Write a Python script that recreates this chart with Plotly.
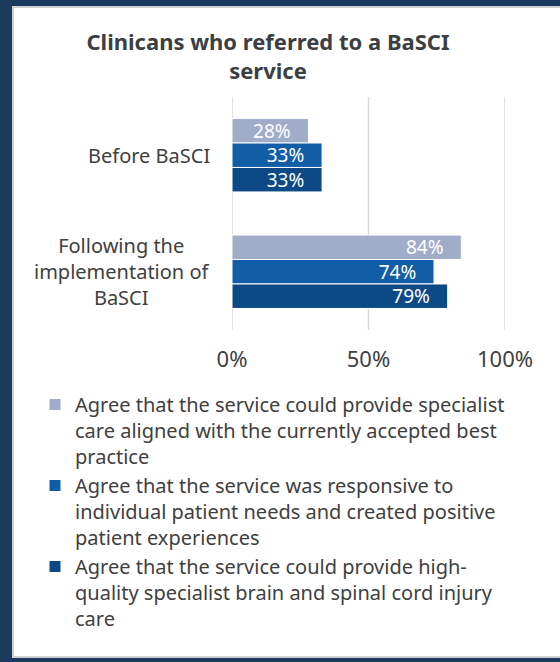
import plotly.graph_objects as go

categories = ["Before BaSCI", "Following the<br>implementation of<br>BaSCI"]
series_names = [
    "Agree that the service could provide specialist<br>care aligned with the currently accepted best<br>practice",
    "Agree that the service was responsive to<br>individual patient needs and created positive<br>patient experiences",
    "Agree that the service could provide high-<br>quality specialist brain and spinal cord injury<br>care",
]
values_best_practice = [0.28, 0.84]
values_responsive = [0.33, 0.74]
values_high_quality = [0.33, 0.79]
series_values = [values_best_practice, values_responsive, values_high_quality]
colors = ["#9fadc9", "#125ea6", "#0d4a85"]
x_ticks = [0, 0.5, 1.0]
x_tick_labels = ["0%", "50%", "100%"]

FONT = "Noto Sans"
TXT = "#404040"

W, H = 560, 662
ML, MR, MT, MB = 232, 55, 97, 332
PW = W - ML - MR
PH = H - MT - MB

def px_to_paper_x(px):
    return (px - ML) / PW

def px_to_paper_y(py):
    return (H - MB - py) / PH

fig = go.Figure()
for name, vals, col in zip(series_names, series_values, colors):
    fig.add_trace(go.Bar(
        y=categories, x=vals, name=name, orientation="h",
        marker=dict(color=col, line=dict(color="white", width=1)),
        texttemplate="%{x:.0%}\u00a0\u00a0\u00a0",
        textposition="inside", insidetextanchor="end", constraintext="none",
        textfont=dict(color="white", size=19, family=FONT),
        hoverinfo="skip",
    ))

# white panel (drawn first so gridlines sit on top of it)
fig.add_shape(
    type="rect", xref="paper", yref="paper", layer="below",
    x0=px_to_paper_x(13), x1=px_to_paper_x(575),
    y0=px_to_paper_y(657), y1=px_to_paper_y(7),
    fillcolor="white", line=dict(color="#d0d0d0", width=2),
)

# vertical gridlines drawn for every tick, including the range edges
for t in x_ticks:
    fig.add_shape(
        type="line", xref="x", yref="paper", layer="below",
        x0=t, x1=t, y0=0, y1=1,
        line=dict(color="#d9d9d9", width=1.5),
    )

# y category labels as annotations (centered multi-line)
for c in categories:
    fig.add_annotation(
        x=px_to_paper_x(212), xref="paper", y=c, yref="y",
        text=c, showarrow=False, xanchor="right", align="center",
        font=dict(size=20, color=TXT, family=FONT),
    )

fig.update_layout(
    width=W, height=H,
    margin=dict(l=ML, r=MR, t=MT, b=MB),
    paper_bgcolor="#1b3b5e", plot_bgcolor="rgba(0,0,0,0)",
    barmode="group", bargap=0.37, bargroupgap=0,
    title=dict(
        text="<b>Clinicans who referred to a BaSCI<br>service</b>",
        x=268 / W, xanchor="center", xref="container",
        y=1 - 50 / H, yanchor="top", yref="container",
        font=dict(size=22, color="#3b3f44", family=FONT),
    ),
    xaxis=dict(
        range=[0, 1], tickvals=x_ticks, ticktext=x_tick_labels,
        showgrid=False,
        zeroline=False, showline=False, ticks="",
        tickfont=dict(size=22, color=TXT, family=FONT),
        ticklabelstandoff=14, fixedrange=True,
    ),
    yaxis=dict(
        autorange="reversed", showticklabels=False, showgrid=False,
        zeroline=False, showline=False, ticks="", fixedrange=True,
    ),
    legend=dict(
        x=px_to_paper_x(35), y=px_to_paper_y(385), xanchor="left", yanchor="top",
        xref="paper", yref="paper",
        font=dict(size=20, color=TXT, family=FONT),
        bgcolor="rgba(0,0,0,0)", traceorder="normal", valign="top",
        itemwidth=30, tracegroupgap=0,
    ),
    showlegend=True,
)

fig.write_html("out.html")
